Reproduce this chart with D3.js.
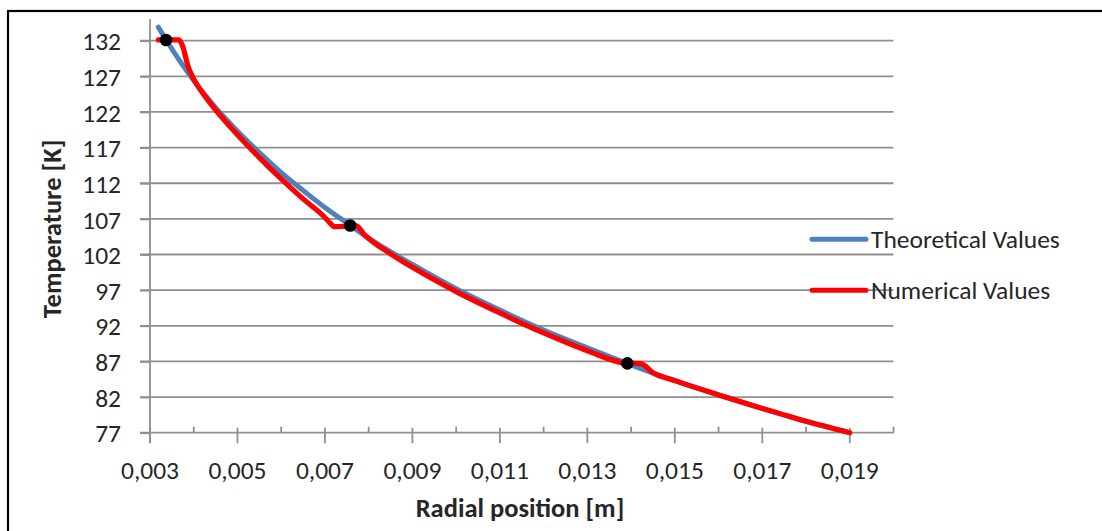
<!DOCTYPE html>
<html>
<head>
<meta charset="utf-8">
<script src="https://cdn.jsdelivr.net/npm/d3@7"></script>
<style>
  body { margin: 0; background: #fff; }
  svg text { font-family: Carlito, Calibri, Lato, sans-serif; fill: #262626; }
</style>
</head>
<body>
<div id="chart"></div>
<script>
// values (radial position in m, temperature in K)
var theoX = [0.00319, 0.00337, 0.0040, 0.0045, 0.0050, 0.0055, 0.0060, 0.0065, 0.0070, 0.00758,
             0.0080, 0.0090, 0.0100, 0.0110, 0.0120, 0.0130, 0.01392, 0.0150, 0.0160, 0.0170, 0.0180, 0.0190];
var theoT = [133.9, 132.1, 126.4, 122.6, 119.3, 116.3, 113.5, 111.0, 108.6, 106.1,
             104.3, 100.6, 97.2, 94.2, 91.4, 88.9, 86.7, 84.3, 82.3, 80.4, 78.6, 77.0];

var numX = [0.00319, 0.00366, 0.00376, 0.00386, 0.0040, 0.0042, 0.0045, 0.0050, 0.0055, 0.0060, 0.0065,
            0.0070, 0.00712, 0.00722, 0.0074, 0.00771, 0.0079, 0.0085, 0.0090, 0.0100, 0.0110, 0.0120,
            0.0130, 0.01392, 0.01422, 0.0145, 0.0150, 0.0160, 0.0170, 0.0180, 0.0190];
var numT = [132.1, 132.1, 131.0, 128.6, 126.6, 124.7, 122.3, 118.8, 115.6, 112.6, 109.8,
            107.2, 106.4, 105.9, 105.95, 106.06, 104.8, 102.1, 100.2, 96.8, 93.8, 91.0,
            88.5, 86.73, 86.7, 85.4, 84.3, 82.3, 80.4, 78.6, 77.0];

// black dots on the curve
var markX = [0.003366, 0.007577, 0.013915];
var markT = [132.1, 106.06, 86.73];

var yTicks = [77, 82, 87, 92, 97, 102, 107, 112, 117, 122, 127, 132];
var xTicks = [0.003, 0.005, 0.007, 0.009, 0.011, 0.013, 0.015, 0.017, 0.019];
var xMinor = [0.004, 0.006, 0.008, 0.010, 0.012, 0.014, 0.016, 0.018, 0.020];

var seriesNames = ["Theoretical Values", "Numerical Values"];
var seriesColors = ["#4f81bd", "#ff0000"];

var W = 1102, H = 531;
// plot area edges ("top" is taken by window.top)
var pLeft = 150, pRight = 893.5, pTop = 19.3, pBottom = 432.7;
var fs = "25.5px";

var svg = d3.select("#chart").append("svg")
    .attr("width", W)
    .attr("height", H);

// outer chart border
svg.append("rect")
    .attr("x", 8).attr("y", 11)
    .attr("width", W + 20).attr("height", H + 20)
    .style("fill", "none")
    .style("stroke", "#000")
    .style("stroke-width", 2.2);

var x = d3.scaleLinear().domain([0.003, 0.020]).range([pLeft, pRight]);
var y = d3.scaleLinear().domain([77, 135]).range([pBottom, pTop]);

// horizontal gridlines (start at the tick mark, left of axis)
svg.append("g").selectAll("line")
    .data(yTicks.slice(1))
    .enter().append("line")
    .attr("x1", pLeft - 10).attr("x2", pRight)
    .attr("y1", function(d) { return y(d); })
    .attr("y2", function(d) { return y(d); })
    .style("stroke", "#8f8f8f")
    .style("stroke-width", 1.8);

// y axis
var yAxis = svg.append("g")
    .attr("transform", "translate(" + pLeft + ",0)")
    .call(d3.axisLeft(y).tickValues(yTicks).tickSize(10).tickPadding(19).tickFormat(d3.format("d")));
yAxis.select(".domain").remove();
yAxis.append("line")
    .attr("x1", 0).attr("x2", 0)
    .attr("y1", pTop).attr("y2", pBottom + 10.5);
yAxis.selectAll("line").style("stroke", "#8f8f8f").style("stroke-width", 1.8);
yAxis.selectAll("text")
    .style("font-size", fs)
    .attr("dy", "0.36em");

// x axis: major ticks cross, minor ticks go up
var xg = svg.append("g").attr("transform", "translate(0," + pBottom + ")");
xg.append("line")
    .attr("x1", pLeft - 10).attr("x2", pRight)
    .attr("y1", 0).attr("y2", 0)
    .style("stroke", "#8f8f8f").style("stroke-width", 1.8);
xg.selectAll(".major")
    .data(xTicks)
    .enter().append("line")
    .attr("class", "major")
    .attr("x1", function(d) { return x(d); })
    .attr("x2", function(d) { return x(d); })
    .attr("y1", -5).attr("y2", 10.5)
    .style("stroke", "#8f8f8f").style("stroke-width", 1.8);
xg.selectAll(".minor")
    .data(xMinor)
    .enter().append("line")
    .attr("class", "minor")
    .attr("x1", function(d) { return x(d); })
    .attr("x2", function(d) { return x(d); })
    .attr("y1", -6).attr("y2", 0)
    .style("stroke", "#8f8f8f").style("stroke-width", 1.8);
xg.selectAll("text")
    .data(xTicks)
    .enter().append("text")
    .attr("x", function(d) { return x(d); })
    .attr("y", 46.3)
    .attr("text-anchor", "middle")
    .style("font-size", fs)
    .text(function(d) { return d3.format(".3f")(d).replace(".", ","); });

// axis titles
svg.append("text")
    .attr("x", 520).attr("y", 517.3)
    .attr("text-anchor", "middle")
    .style("font-size", "26.5px")
    .style("font-weight", "bold")
    .text("Radial position [m]");

svg.append("text")
    .attr("transform", "translate(61,229) rotate(-90)")
    .attr("text-anchor", "middle")
    .style("font-size", "26.5px")
    .style("font-weight", "bold")
    .text("Temperature [K]");

// the two curves
var theo = theoX.map(function(d, i) { return [d, theoT[i]]; });
var num = numX.map(function(d, i) { return [d, numT[i]]; });

var line = d3.line()
    .x(function(d) { return x(d[0]); })
    .y(function(d) { return y(d[1]); })
    .curve(d3.curveMonotoneX);

svg.append("path")
    .datum(theo)
    .attr("d", line)
    .style("fill", "none")
    .style("stroke", seriesColors[0])
    .style("stroke-width", 5)
    .style("stroke-linejoin", "round")
    .style("stroke-linecap", "round");

svg.append("path")
    .datum(num)
    .attr("d", line)
    .style("fill", "none")
    .style("stroke", seriesColors[1])
    .style("stroke-width", 5.2)
    .style("stroke-linejoin", "round")
    .style("stroke-linecap", "round");

svg.append("g").selectAll("circle")
    .data(markX)
    .enter().append("circle")
    .attr("cx", function(d) { return x(d); })
    .attr("cy", function(d, i) { return y(markT[i]); })
    .attr("r", 6.3)
    .style("fill", "#000");

// legend, drawn over the gridlines
var legend = svg.append("g").selectAll("g")
    .data(seriesNames)
    .enter().append("g")
    .attr("transform", function(d, i) { return "translate(812," + (239.3 + i * 51) + ")"; });
legend.append("line")
    .attr("x1", 0).attr("x2", 54)
    .attr("y1", 0).attr("y2", 0)
    .style("stroke", function(d, i) { return seriesColors[i]; })
    .style("stroke-width", 5)
    .style("stroke-linecap", "round");
legend.append("text")
    .attr("x", 59).attr("y", 8.8)
    .style("font-size", fs)
    .text(function(d) { return d; });
</script>
</body>
</html>
